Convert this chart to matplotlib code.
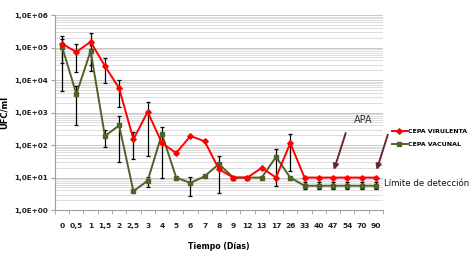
import numpy as np
import matplotlib
matplotlib.use("Agg")
import matplotlib.pyplot as plt
from matplotlib.ticker import FixedLocator, LogLocator, NullFormatter

# ---------------------------------------------------------------------------
# data
# ---------------------------------------------------------------------------
DAYS = ["0", "0,5", "1", "1,5", "2", "2,5", "3", "4", "5", "6", "7", "8", "9",
        "12", "13", "17", "26", "33", "40", "47", "54", "70", "90"]

VIR = [1.3e5, 7.3e4, 1.5e5, 2.7e4, 5.6e3, 150, 1.05e3, 115, 57, 190, 130, 18, 10,
       10, 20, 10, 115, 10, 10, 10, 10, 10, 10]
VIR_HI = [2.2e5, 1.3e5, 2.8e5, 4.8e4, 1.0e4, 250, 2.1e3, np.nan, np.nan, np.nan, np.nan,
          np.nan, np.nan, np.nan, np.nan, np.nan, 220, np.nan, np.nan, np.nan, np.nan,
          np.nan, np.nan]
VIR_LO = [3.3e4, 1.8e4, 3.0e4, 8.0e3, 1.5e3, 37, 46, np.nan, np.nan, np.nan, np.nan,
          np.nan, np.nan, np.nan, np.nan, np.nan, 16, np.nan, np.nan, np.nan, np.nan,
          np.nan, np.nan]

VAC = [1.05e5, 3.7e3, 7.8e4, 190, 400, 3.8, 8, 220, 10, 6.8, 11, 26, 10,
       10, 10, 43, 10, 5.6, 5.6, 5.6, 5.6, 5.6, 5.6]
VAC_HI = [1.8e5, 6.5e3, 1.2e5, 290, 780, np.nan, 10.5, 360, np.nan, 10.5, np.nan, 46,
          np.nan, np.nan, np.nan, 75, np.nan, 7.3, 7.3, 7.3, 7.3, 7.3, 7.3]
VAC_LO = [4.6e3, 400, 1.9e4, 87, 30, np.nan, 5, 10, np.nan, 2.7, np.nan, 3.3,
          np.nan, np.nan, np.nan, 5.5, np.nan, 4.4, 4.4, 4.4, 4.4, 4.4, 4.4]

RED = "#ff0000"
GREEN = "#4f6228"
ARROW = "#6b2a2a"


def yerr(vals, lo, hi):
    v = np.asarray(vals, float)
    return np.vstack([v - np.asarray(lo, float), np.asarray(hi, float) - v])


fig = plt.figure(figsize=(4.76, 2.59), dpi=100)
ax = fig.add_axes([0.1155, 0.189, 0.689, 0.753])

x = np.arange(len(DAYS))

ax.errorbar(x, VIR, yerr=yerr(VIR, VIR_LO, VIR_HI), fmt="none",
            ecolor="black", elinewidth=0.9, capsize=1.6, capthick=0.9, zorder=2)
ax.errorbar(x, VAC, yerr=yerr(VAC, VAC_LO, VAC_HI), fmt="none",
            ecolor="black", elinewidth=0.9, capsize=1.6, capthick=0.9, zorder=2)
ax.plot(x, VIR, color=RED, lw=1.4, marker="D", ms=2.8, zorder=4,
        label="CEPA VIRULENTA")
ax.plot(x, VAC, color=GREEN, lw=1.4, marker="s", ms=2.7, zorder=3,
        label="CEPA VACUNAL")

ax.set_yscale("log")
ax.set_ylim(1, 1e6)
ax.set_xlim(-0.5, len(DAYS) - 0.5)

ax.yaxis.set_major_locator(LogLocator(base=10, numticks=10))
ax.yaxis.set_minor_locator(LogLocator(base=10, subs=np.arange(2, 10), numticks=20))
ax.yaxis.set_minor_formatter(NullFormatter())
ax.set_yticks([10.0 ** k for k in range(7)])
ax.set_yticklabels([f"1,0E+{k:02d}" for k in range(7)])
ax.grid(True, which="major", axis="y", color="#c8c8c8", lw=0.7)
ax.grid(True, which="minor", axis="y", color="#dcdcdc", lw=0.7)
ax.set_axisbelow(True)

ax.set_xticks(x)
ax.set_xticklabels(DAYS)
ax.xaxis.set_minor_locator(FixedLocator(np.arange(-0.5, len(DAYS), 1)))
ax.tick_params(axis="x", which="major", length=0, pad=9, labelsize=5.4)
ax.tick_params(axis="x", which="minor", length=3, color="#a0a0a0")
ax.tick_params(axis="y", which="major", length=3, color="#a0a0a0", labelsize=5.2, pad=2)
ax.tick_params(axis="y", which="minor", length=0)
for lbl in ax.get_yticklabels() + ax.get_xticklabels():
    lbl.set_fontweight("bold")
    lbl.set_color("#222222")

for s in ("top", "right"):
    ax.spines[s].set_visible(False)
for s in ("left", "bottom"):
    ax.spines[s].set_color("#a0a0a0")
    ax.spines[s].set_linewidth(0.8)

ax.set_ylabel("UFC/ml", fontsize=6, fontweight="bold")
ax.yaxis.set_label_coords(-0.14, 0.5)
ax.set_xlabel("Tiempo (Días)", fontsize=5.6, fontweight="bold", labelpad=10)

# annotations
fig.text(363 / 476, 1 - 120 / 259, "APA", fontsize=7, color="#333333",
         ha="center", va="center")
ax.annotate("", xy=(19, 10 ** 1.15), xytext=(19.95, 10 ** 2.45),
            arrowprops=dict(arrowstyle="-|>", color=ARROW, lw=1.4,
                            mutation_scale=8))
ax.annotate("", xy=(22, 10 ** 1.15), xytext=(22.9, 10 ** 2.4),
            arrowprops=dict(arrowstyle="-|>", color=ARROW, lw=1.4,
                            mutation_scale=8), annotation_clip=False)
fig.text(384 / 476, 1 - 183 / 259, "Límite de detección", fontsize=6.2,
         color="#111111", ha="left", va="center")

ax.legend(loc="center left", bbox_to_anchor=(1.01, 0.37), frameon=False,
          prop={"size": 4.5, "weight": "bold"}, handlelength=2.4,
          handletextpad=0.2, labelspacing=1.3)

fig.savefig("out.png", dpi=100)
